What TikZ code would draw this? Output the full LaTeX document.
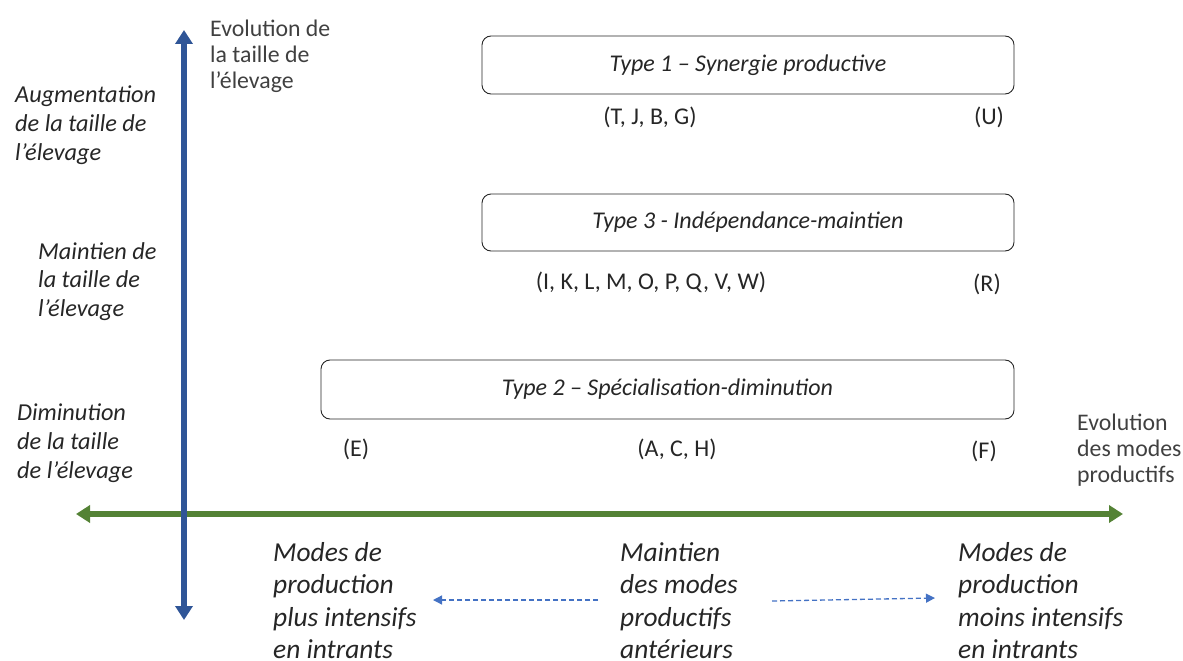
\documentclass[tikz,border=0pt]{standalone}
\usepackage{fontspec}
\setmainfont{Carlito}
\usetikzlibrary{arrows.meta}
\definecolor{axisblue}{HTML}{2F5597}
\definecolor{axisgreen}{HTML}{548235}
\definecolor{dashblue}{HTML}{4472C4}
\definecolor{txt}{HTML}{262626}
\begin{document}
\begin{tikzpicture}[x=1pt,y=-1pt,
  typebox/.style={draw=black!85, line width=0.9pt, rounded corners=9pt, inner sep=0pt, font=\fontsize{24}{26}\selectfont\itshape, text=txt},
  members/.style={inner sep=0pt, font=\fontsize{24}{26}\selectfont, text=txt},
  sidelabel/.style={inner sep=0pt, anchor=north west, align=left, font=\fontsize{24.3}{28.6}\selectfont\itshape, text=txt},
  axislabel/.style={inner sep=0pt, anchor=north west, align=left, font=\fontsize{23.8}{26}\selectfont, text=black!75},
  modelabel/.style={inner sep=0pt, anchor=north west, align=left, font=\fontsize{27.4}{32.5}\selectfont\itshape, text=txt},
  bigaxis/.style={line width=5.5pt},
  dasharrow/.style={dashblue, line width=1.3pt, dash pattern=on 5pt off 3pt, -{Triangle[width=9pt,length=9pt]}}
]
\useasboundingbox (0,0) rectangle (1183,661);

% axes
\coordinate (vtop) at (184,30);
\coordinate (vbot) at (184,620);
\coordinate (hleft) at (76,514);
\coordinate (hright) at (1123,514);
\draw[bigaxis, axisgreen, {Triangle[width=17pt,length=14pt]}-{Triangle[width=17pt,length=14pt]}] (hleft) -- (hright);
\draw[bigaxis, axisblue, {Triangle[width=17pt,length=14pt]}-{Triangle[width=17pt,length=14pt]}] (vbot) -- (vtop);

% axis labels
\node[axislabel] (evtaille) at (210,20) {Evolution de\\la taille de\\l’élevage};
\node[axislabel] (evmodes) at (1077,414) {Evolution\\des modes\\productifs};

% side labels
\node[sidelabel] (augm) at (15,86) {Augmentation\\de la taille de\\l’élevage};
\node[sidelabel] (maint) at (38,242) {Maintien de\\la taille de\\l’élevage};
\node[sidelabel] (dimin) at (17,404) {Diminution\\de la taille\\de l’élevage};

% type boxes
\node[typebox, minimum width=532pt, minimum height=58pt] (t1) at (748,65) {Type 1 – Synergie productive};
\node[typebox, minimum width=532pt, minimum height=57pt] (t3) at (748,222.5) {Type 3 - Indépendance-maintien};
\node[typebox, minimum width=693pt, minimum height=59pt] (t2) at (667.5,389.5) {Type 2 – Spécialisation-diminution};

% members
\node[members] (m1a) at (650,117) {(T, J, B, G)};
\node[members] (m1b) at (989,117) {(U)};
\node[members] (m3a) at (651,282) {(I, K, L, M, O, P, Q, V, W)};
\node[members] (m3b) at (987,284) {(R)};
\node[members] (m2a) at (356,449) {(E)};
\node[members] (m2b) at (677,449) {(A, C, H)};
\node[members] (m2c) at (984,451) {(F)};

% bottom mode labels
\node[modelabel] (plus) at (273,542) {Modes de\\production\\plus intensifs\\en intrants};
\node[modelabel] (mm) at (620,542) {Maintien\\des modes\\productifs\\antérieurs};
\node[modelabel] (moins) at (958,542) {Modes de\\production\\moins intensifs\\en intrants};

% dashed arrows
\coordinate (la) at (598,600);
\coordinate (lb) at (433,600);
\coordinate (ra) at (772,601);
\coordinate (rb) at (935,598);
\draw[dasharrow] (la) -- (lb);
\draw[dasharrow] (ra) -- (rb);
\end{tikzpicture}
\end{document}
